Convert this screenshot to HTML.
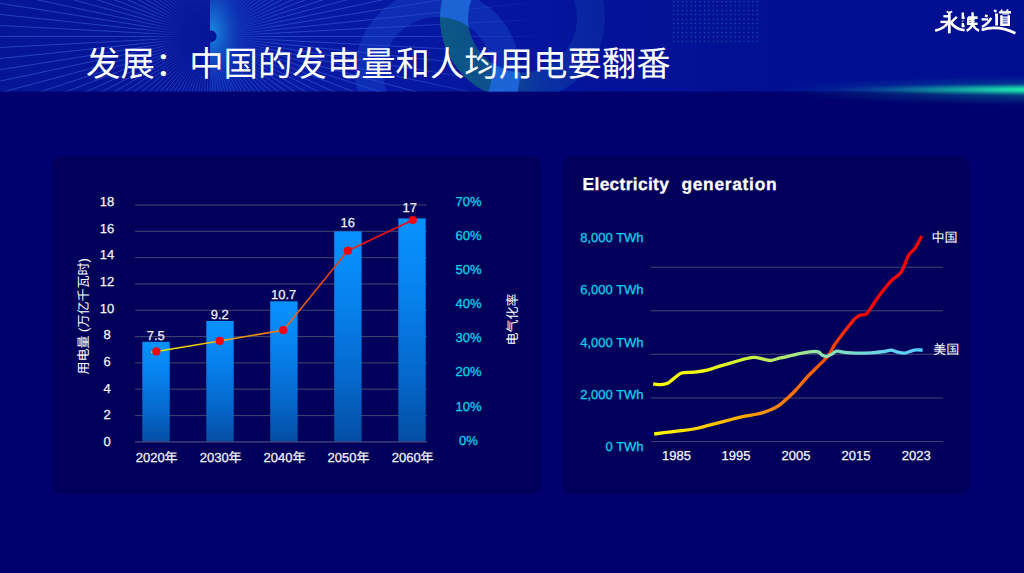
<!DOCTYPE html>
<html lang="zh-CN">
<head>
<meta charset="utf-8">
<title>发展：中国的发电量和人均用电要翻番</title>
<style>
html,body{margin:0;padding:0;background:#00006f;}
body{width:1024px;height:573px;overflow:hidden;position:relative;font-family:"Liberation Sans",sans-serif;}
.slide{position:absolute;left:0;top:0;width:1024px;height:573px;background:#00006f;overflow:hidden;}
.abs{position:absolute;left:0;top:0;display:block;}
text{text-rendering:geometricPrecision;}
header{position:absolute;left:0;top:0;width:1024px;height:110px;}
h1{margin:0;}
.panel{position:absolute;background:#00005a;border-radius:9px;}
#p1{left:52px;top:156px;width:488px;height:337px;}
#p2{left:563px;top:156px;width:407px;height:337px;}
</style>
</head>
<body>
<div class="slide">
<header>
<svg class="abs" width="1024" height="110" viewBox="0 0 1024 110" aria-hidden="true">
<defs>
<linearGradient id="hbg" x1="0" y1="0" x2="1024" y2="0" gradientUnits="userSpaceOnUse"><stop offset="0" stop-color="#051596"/><stop offset="0.2" stop-color="#06169c"/><stop offset="0.21" stop-color="#081ca6"/><stop offset="0.5" stop-color="#05159e"/><stop offset="0.7" stop-color="#021194"/><stop offset="1" stop-color="#000f90"/></linearGradient>
<radialGradient id="rayfade" cx="210" cy="36.5" r="340" gradientUnits="userSpaceOnUse"><stop offset="0" stop-color="#fff" stop-opacity="0"/><stop offset="0.05" stop-color="#fff" stop-opacity="0.15"/><stop offset="0.2" stop-color="#fff" stop-opacity="0.8"/><stop offset="0.6" stop-color="#fff" stop-opacity="0.8"/><stop offset="0.85" stop-color="#fff" stop-opacity="0.3"/><stop offset="1" stop-color="#fff" stop-opacity="0"/></radialGradient>
<mask id="raymask"><rect width="1024" height="92" fill="url(#rayfade)"/></mask>
<radialGradient id="glow" cx="0" cy="0" r="1" gradientTransform="translate(212 32) scale(46 78)" gradientUnits="userSpaceOnUse"><stop offset="0" stop-color="#1a90e4" stop-opacity="0.95"/><stop offset="0.3" stop-color="#1678d8" stop-opacity="0.6"/><stop offset="0.65" stop-color="#1050c8" stop-opacity="0.22"/><stop offset="1" stop-color="#1050c8" stop-opacity="0"/></radialGradient>
<radialGradient id="dark" cx="0" cy="0" r="1" gradientTransform="translate(210 36.5) scale(54 54)" gradientUnits="userSpaceOnUse"><stop offset="0" stop-color="#06169a" stop-opacity="1"/><stop offset="0.45" stop-color="#06169a" stop-opacity="0.8"/><stop offset="1" stop-color="#06169a" stop-opacity="0"/></radialGradient>
<linearGradient id="ring2" x1="440" y1="40" x2="605" y2="10" gradientUnits="userSpaceOnUse"><stop offset="0" stop-color="#0c5c82" stop-opacity="0.95"/><stop offset="0.3" stop-color="#0d548c" stop-opacity="0.9"/><stop offset="0.6" stop-color="#0e40a8" stop-opacity="0.6"/><stop offset="1" stop-color="#0c36a8" stop-opacity="0.42"/></linearGradient>
<radialGradient id="green" cx="0" cy="0" r="1" gradientTransform="translate(1080 89.6) scale(250 6.6)" gradientUnits="userSpaceOnUse"><stop offset="0" stop-color="#24f0b4" stop-opacity="1"/><stop offset="0.3" stop-color="#1ce0ac" stop-opacity="0.95"/><stop offset="0.6" stop-color="#14c0a4" stop-opacity="0.55"/><stop offset="0.85" stop-color="#10a0a0" stop-opacity="0.15"/><stop offset="1" stop-color="#10a0a0" stop-opacity="0"/></radialGradient>
<radialGradient id="green2" cx="0" cy="0" r="1" gradientTransform="translate(1080 91) scale(300 15)" gradientUnits="userSpaceOnUse"><stop offset="0" stop-color="#10b0a0" stop-opacity="0.55"/><stop offset="1" stop-color="#1090a0" stop-opacity="0"/></radialGradient>
<pattern id="dots" x="671.4" y="-0.7" width="4.4" height="4.42" patternUnits="userSpaceOnUse"><circle cx="2.2" cy="2.2" r="0.65" fill="#1666b0"/></pattern>
<clipPath id="hclip"><rect width="1024" height="91.5"/></clipPath>
</defs>
<g clip-path="url(#hclip)">
<rect width="1024" height="92" fill="url(#hbg)"/>
<g mask="url(#raymask)"><path d="M216.0 36.5L610.0 36.5M216.0 36.8L609.5 57.4M216.0 37.1L607.8 78.3M215.9 37.4L605.1 99.1M215.9 37.7L601.3 119.7M215.8 38.1L596.4 140.0M215.7 38.4L590.4 160.1M215.6 38.7L583.4 179.8M215.5 38.9L575.4 199.2M215.3 39.2L566.4 218.1M215.2 39.5L556.4 236.5M215.0 39.8L545.5 254.4M214.9 40.0L533.6 271.6M214.7 40.3L520.9 288.2M214.5 40.5L507.3 304.2M214.2 40.7L492.8 319.3M214.0 41.0L477.7 333.8M213.8 41.2L461.7 347.4M213.5 41.4L445.1 360.1M213.3 41.5L427.9 372.0M213.0 41.7L410.0 382.9M212.7 41.8L391.6 392.9M212.4 42.0L372.7 401.9M212.2 42.1L353.3 409.9M211.9 42.2L333.6 416.9M211.6 42.3L313.5 422.9M211.2 42.4L293.2 427.8M210.9 42.4L272.6 431.6M210.6 42.5L251.8 434.3M210.3 42.5L230.9 436.0M210.0 42.5L210.0 436.5M209.7 42.5L189.1 436.0M209.4 42.5L168.2 434.3M209.1 42.4L147.4 431.6M208.8 42.4L126.8 427.8M208.4 42.3L106.5 422.9M208.1 42.2L86.4 416.9M207.8 42.1L66.7 409.9M207.6 42.0L47.3 401.9M207.3 41.8L28.4 392.9M207.0 41.7L10.0 382.9M206.7 41.5L-7.9 372.0M206.5 41.4L-25.1 360.1M206.2 41.2L-41.7 347.4M206.0 41.0L-57.7 333.8M205.8 40.7L-72.8 319.3M205.5 40.5L-87.3 304.2M205.3 40.3L-100.9 288.2M205.1 40.0L-113.6 271.6M205.0 39.8L-125.5 254.4M204.8 39.5L-136.4 236.5M204.7 39.2L-146.4 218.1M204.5 38.9L-155.4 199.2M204.4 38.7L-163.4 179.8M204.3 38.4L-170.4 160.1M204.2 38.1L-176.4 140.0M204.1 37.7L-181.3 119.7M204.1 37.4L-185.1 99.1M204.0 37.1L-187.8 78.3M204.0 36.8L-189.5 57.4M204.0 36.5L-190.0 36.5M204.0 36.2L-189.5 15.6M204.0 35.9L-187.8 -5.3M204.1 35.6L-185.1 -26.1M204.1 35.3L-181.3 -46.7M204.2 34.9L-176.4 -67.0M204.3 34.6L-170.4 -87.1M204.4 34.3L-163.4 -106.8M204.5 34.1L-155.4 -126.2M204.7 33.8L-146.4 -145.1M204.8 33.5L-136.4 -163.5M205.0 33.2L-125.5 -181.4M205.1 33.0L-113.6 -198.6M205.3 32.7L-100.9 -215.2M205.5 32.5L-87.3 -231.2M205.8 32.3L-72.8 -246.3M206.0 32.0L-57.7 -260.8M206.2 31.8L-41.7 -274.4M206.5 31.6L-25.1 -287.1M206.7 31.5L-7.9 -299.0M207.0 31.3L10.0 -309.9M207.3 31.2L28.4 -319.9M207.6 31.0L47.3 -328.9M207.8 30.9L66.7 -336.9M208.1 30.8L86.4 -343.9M208.4 30.7L106.5 -349.9M208.8 30.6L126.8 -354.8M209.1 30.6L147.4 -358.6M209.4 30.5L168.2 -361.3M209.7 30.5L189.1 -363.0M210.0 30.5L210.0 -363.5M210.3 30.5L230.9 -363.0M210.6 30.5L251.8 -361.3M210.9 30.6L272.6 -358.6M211.2 30.6L293.2 -354.8M211.6 30.7L313.5 -349.9M211.9 30.8L333.6 -343.9M212.2 30.9L353.3 -336.9M212.4 31.0L372.7 -328.9M212.7 31.2L391.6 -319.9M213.0 31.3L410.0 -309.9M213.3 31.5L427.9 -299.0M213.5 31.6L445.1 -287.1M213.8 31.8L461.7 -274.4M214.0 32.0L477.7 -260.8M214.2 32.3L492.8 -246.3M214.5 32.5L507.3 -231.2M214.7 32.7L520.9 -215.2M214.9 33.0L533.6 -198.6M215.0 33.2L545.5 -181.4M215.2 33.5L556.4 -163.5M215.3 33.8L566.4 -145.1M215.5 34.1L575.4 -126.2M215.6 34.3L583.4 -106.8M215.7 34.6L590.4 -87.1M215.8 34.9L596.4 -67.0M215.9 35.3L601.3 -46.7M215.9 35.6L605.1 -26.1M216.0 35.9L607.8 -5.3M216.0 36.2L609.5 15.6" stroke="#4a78e6" stroke-width="0.9" fill="none" opacity="0.62"/></g>
<rect x="140" y="0" width="70" height="92" fill="url(#dark)"/><rect x="210" y="0" width="60" height="92" fill="url(#glow)"/>
<circle cx="210.6" cy="36.3" r="6" fill="#06169a"/>
<clipPath id="r2clip"><path clip-rule="evenodd" d="M440.0 18a82.5 82.5 0 1 0 165.0 0a82.5 82.5 0 1 0 -165.0 0ZM468.0 18a54.5 54.5 0 1 0 109.0 0a54.5 54.5 0 1 0 -109.0 0Z"/></clipPath>
<path fill-rule="evenodd" fill="#1a4cd0" fill-opacity="0.42" d="M355.0 71.5a82.5 82.5 0 1 0 165.0 0a82.5 82.5 0 1 0 -165.0 0ZM383.0 71.5a54.5 54.5 0 1 0 109.0 0a54.5 54.5 0 1 0 -109.0 0Z"/>
<path fill-rule="evenodd" fill="url(#ring2)" d="M440.0 18a82.5 82.5 0 1 0 165.0 0a82.5 82.5 0 1 0 -165.0 0ZM468.0 18a54.5 54.5 0 1 0 109.0 0a54.5 54.5 0 1 0 -109.0 0Z"/>
<g clip-path="url(#r2clip)"><path fill-rule="evenodd" fill="#1e66de" fill-opacity="0.9" d="M355.0 71.5a82.5 82.5 0 1 0 165.0 0a82.5 82.5 0 1 0 -165.0 0ZM383.0 71.5a54.5 54.5 0 1 0 109.0 0a54.5 54.5 0 1 0 -109.0 0Z"/></g>
<rect x="671.4" y="0" width="88" height="43.5" fill="url(#dots)"/>
</g>
<rect x="760" y="74" width="264" height="36" fill="url(#green2)"/>
<rect x="800" y="80" width="224" height="20" fill="url(#green)"/>
</svg>
<h1><svg class="abs" width="1024" height="92" viewBox="0 0 1024 92" role="img" aria-label="发展：中国的发电量和人均用电要翻番"><text x="86" y="76" font-family="'Liberation Sans','Noto Sans CJK SC',sans-serif" font-size="34.4" font-weight="normal" fill="#fff">发展：中国的发电量和人均用电要翻番</text></svg></h1>
<svg class="abs" width="1024" height="92" viewBox="0 0 1024 92" role="img" aria-label="永续之道"><title>永续之道</title><g fill="none" stroke="#fff" stroke-linecap="butt" stroke-linejoin="miter"><path d="M946.6 11.3Q949.4 13.5 952.2 11.3" stroke-width="1.68"/><path d="M943.4 16.3H949.3" stroke-width="2.40"/><path d="M949.3 12.8V33.3" stroke-width="2.76"/><path d="M940.4 21.9H948" stroke-width="2.40"/><path d="M948.2 22Q945 28.5 935.2 30.6" stroke-width="2.64"/><path d="M956.8 16.9L951 22.4" stroke-width="2.40"/><path d="M950.4 21.5Q954.5 29 964.6 30.3" stroke-width="2.64"/><path d="M962.8 12.4V17.8H964.6" stroke-width="2.40"/><path d="M962.4 20.6L963 21.2" stroke-width="1.92"/><path d="M962.8 23V26H964.6" stroke-width="2.40"/><path d="M972.6 12.3V17" stroke-width="2.40"/><path d="M967.9 17.6H977.6" stroke-width="2.64"/><path d="M968 19.6H974.8M968 21.5H974.8" stroke-width="1.32"/><path d="M968 17.6V23.8" stroke-width="1.92"/><path d="M966.9 23.8H977.6" stroke-width="2.40"/><path d="M972.6 17.6V25" stroke-width="2.40"/><path d="M972.4 25Q970.5 29 966.6 30.7" stroke-width="2.64"/><path d="M972.9 25Q975 29 979.1 30.7" stroke-width="2.64"/><path d="M985 15.3L987.6 16.4" stroke-width="2.40"/><path d="M981.6 19.4H988.2" stroke-width="2.40"/><path d="M991.3 17.9Q988 24 981.9 26.9" stroke-width="2.40"/><path d="M981.6 29.9C990 27.2 1002 26.8 1015.4 33.3" stroke-width="2.76"/><path d="M994.1 10.1L996.4 11.8" stroke-width="2.40"/><path d="M995 14.8H996.6V25.6" stroke-width="2.76"/><path d="M1001.2 9.6L1001.9 11.2M1007.8 9.4L1007 11.2" stroke-width="1.92"/><path d="M999.1 12.3H1011" stroke-width="2.40"/><path d="M1002.3 14H1009" stroke-width="1.08"/><path d="M1001.4 15.2V24.9H1008.8V15.2" stroke-width="2.40"/><path d="M1001.4 17.1H1008.8M1001.4 19.1H1008.8M1001.4 21.1H1008.8M1001.4 23H1008.8" stroke-width="1.20"/></g></svg>
</header>
<svg class="abs" width="1024" height="573" viewBox="0 0 1024 573" aria-hidden="true"><rect x="52.3" y="156.2" width="488.4" height="337.7" rx="8.5" fill="#00005a"/><rect x="562.6" y="156.2" width="406.6" height="337.7" rx="8.5" fill="#00005a"/></svg>
<svg class="abs" width="1024" height="573" viewBox="0 0 1024 573" role="img" aria-label="用电量与电气化率">
<defs>
<linearGradient id="bar" x1="0" y1="0" x2="0" y2="1"><stop offset="0" stop-color="#0892ff"/><stop offset="0.3" stop-color="#0784f0"/><stop offset="0.7" stop-color="#0568cc"/><stop offset="1" stop-color="#044ea4"/></linearGradient>
<linearGradient id="lineg" x1="151" y1="0" x2="413" y2="0" gradientUnits="userSpaceOnUse"><stop offset="0" stop-color="#d8e800"/><stop offset="0.08" stop-color="#f0e000"/><stop offset="0.3" stop-color="#f0a808"/><stop offset="0.5" stop-color="#f07010"/><stop offset="0.7" stop-color="#f03c10"/><stop offset="0.85" stop-color="#f01410"/><stop offset="1" stop-color="#f00010"/></linearGradient>
</defs>
<rect x="135" y="414.98" width="292" height="1.1" fill="#404070"/>
<rect x="135" y="388.66" width="292" height="1.1" fill="#404070"/>
<rect x="135" y="362.34" width="292" height="1.1" fill="#404070"/>
<rect x="135" y="336.02" width="292" height="1.1" fill="#404070"/>
<rect x="135" y="309.70" width="292" height="1.1" fill="#404070"/>
<rect x="135" y="283.38" width="292" height="1.1" fill="#404070"/>
<rect x="135" y="257.06" width="292" height="1.1" fill="#404070"/>
<rect x="135" y="230.74" width="292" height="1.1" fill="#404070"/>
<rect x="135" y="204.42" width="292" height="1.1" fill="#404070"/>
<rect x="142.3" y="341.8" width="27.4" height="100.1" fill="url(#bar)"/>
<rect x="206.3" y="321.0" width="27.4" height="120.9" fill="url(#bar)"/>
<rect x="270.2" y="301.3" width="27.4" height="140.6" fill="url(#bar)"/>
<rect x="334.2" y="231.4" width="27.4" height="210.5" fill="url(#bar)"/>
<rect x="398.3" y="218.4" width="27.4" height="223.5" fill="url(#bar)"/>
<rect x="135" y="441.20" width="292" height="1.4" fill="#444478"/>
<path d="M151.1 352.3L156.4 351.4L219.7 340.9L283.3 330.2L347.9 250.7L412.8 220" fill="none" stroke="url(#lineg)" stroke-width="1.5"/>
<circle cx="156.4" cy="351.4" r="4.1" fill="#f5000f"/>
<circle cx="219.7" cy="340.9" r="4.1" fill="#f5000f"/>
<circle cx="283.3" cy="330.2" r="4.1" fill="#f5000f"/>
<circle cx="347.9" cy="250.7" r="4.1" fill="#f5000f"/>
<circle cx="412.8" cy="220" r="4.1" fill="#f5000f"/>
<g font-family="'Liberation Sans',sans-serif" font-size="13" fill="#f4f4fa" stroke="#f4f4fa" stroke-width="0.25" text-anchor="middle">
<text x="107" y="446.1">0</text>
<text x="107" y="419.4">2</text>
<text x="107" y="392.8">4</text>
<text x="107" y="366.1">6</text>
<text x="107" y="339.4">8</text>
<text x="107" y="312.7">10</text>
<text x="107" y="286.1">12</text>
<text x="107" y="259.4">14</text>
<text x="107" y="232.7">16</text>
<text x="107" y="206.1">18</text>
<text x="155.7" y="339.9">7.5</text>
<text x="219.8" y="318.5">9.2</text>
<text x="283.7" y="298.8">10.7</text>
<text x="347.7" y="227.1">16</text>
<text x="409.7" y="212.3">17</text>
</g>
<text x="135.7" y="461.7" font-family="'Liberation Sans','Noto Sans CJK SC',sans-serif" font-size="13" fill="#f4f4fa" stroke="#f4f4fa" stroke-width="0.25">2020年</text>
<text x="199.7" y="461.7" font-family="'Liberation Sans','Noto Sans CJK SC',sans-serif" font-size="13" fill="#f4f4fa" stroke="#f4f4fa" stroke-width="0.25">2030年</text>
<text x="263.6" y="461.7" font-family="'Liberation Sans','Noto Sans CJK SC',sans-serif" font-size="13" fill="#f4f4fa" stroke="#f4f4fa" stroke-width="0.25">2040年</text>
<text x="327.6" y="461.7" font-family="'Liberation Sans','Noto Sans CJK SC',sans-serif" font-size="13" fill="#f4f4fa" stroke="#f4f4fa" stroke-width="0.25">2050年</text>
<text x="391.7" y="461.7" font-family="'Liberation Sans','Noto Sans CJK SC',sans-serif" font-size="13" fill="#f4f4fa" stroke="#f4f4fa" stroke-width="0.25">2060年</text>
<g font-family="'Liberation Sans',sans-serif" font-size="13" fill="#0ad4ee" stroke="#0ad4ee" stroke-width="0.25" text-anchor="middle">
<text x="468.5" y="444.6">0%</text>
<text x="468.5" y="410.5">10%</text>
<text x="468.5" y="376.4">20%</text>
<text x="468.5" y="342.4">30%</text>
<text x="468.5" y="308.3">40%</text>
<text x="468.5" y="274.2">50%</text>
<text x="468.5" y="240.1">60%</text>
<text x="468.5" y="206.0">70%</text>
</g>
<g transform="translate(87.7 374.5) rotate(-90)"><text x="0" y="0" font-family="'Liberation Sans','Noto Sans CJK SC',sans-serif" font-size="13" fill="#fff">用电量 (万亿千瓦时)</text></g>
<g transform="translate(516.8 345.5) rotate(-90)"><text x="0" y="0" font-family="'Liberation Sans','Noto Sans CJK SC',sans-serif" font-size="13" fill="#fff">电气化率</text></g>
</svg>
<svg class="abs" width="1024" height="573" viewBox="0 0 1024 573" role="img" aria-label="Electricity generation">
<defs>
<linearGradient id="usg" x1="653" y1="0" x2="923" y2="0" gradientUnits="userSpaceOnUse"><stop offset="0" stop-color="#ffff00"/><stop offset="0.2" stop-color="#f0f810"/><stop offset="0.36" stop-color="#c8f040"/><stop offset="0.52" stop-color="#a8e680"/><stop offset="0.68" stop-color="#80e0c0"/><stop offset="0.85" stop-color="#68d4e8"/><stop offset="1" stop-color="#50c8ff"/></linearGradient>
<linearGradient id="cng" x1="653" y1="0" x2="923" y2="0" gradientUnits="userSpaceOnUse"><stop offset="0" stop-color="#ffff00"/><stop offset="0.15" stop-color="#ffd800"/><stop offset="0.33" stop-color="#ffa800"/><stop offset="0.5" stop-color="#ff7800"/><stop offset="0.62" stop-color="#ff5c00"/><stop offset="0.7" stop-color="#ff3000"/><stop offset="0.77" stop-color="#ff0800"/><stop offset="0.82" stop-color="#ff0000"/><stop offset="1" stop-color="#ff0000"/></linearGradient>
</defs>
<rect x="650.8" y="266.70" width="292.2" height="1.1" fill="#404070"/>
<rect x="650.8" y="310.20" width="292.2" height="1.1" fill="#404070"/>
<rect x="650.8" y="353.70" width="292.2" height="1.1" fill="#404070"/>
<rect x="650.8" y="397.40" width="292.2" height="1.1" fill="#404070"/>
<rect x="650.8" y="441.00" width="292.2" height="1.1" fill="#404070"/>
<path d="M654.2 434.0C656.4 433.7 664.7 432.6 668.8 432.1C672.9 431.6 677.5 431.2 681.6 430.7C685.7 430.2 692.4 429.2 696.3 428.5C700.2 427.8 704.0 426.6 707.3 425.7C710.6 424.8 714.7 423.7 718.3 422.8C721.9 421.9 727.3 420.5 731.1 419.5C734.9 418.5 740.3 417.1 743.9 416.4C747.5 415.6 752.2 415.0 754.9 414.5C757.6 414.0 759.7 413.6 762.2 412.9C764.7 412.2 768.9 410.7 771.4 409.6C773.9 408.5 776.5 407.1 778.7 405.6C780.9 404.1 783.6 401.7 786.0 399.5C788.4 397.3 791.7 394.5 795 391.0C798.3 387.5 804.7 379.7 808.2 376.0C811.7 372.3 815.2 369.1 818.2 366.1C821.2 363.1 825.6 359.3 828.1 356.1C830.6 352.9 832.3 348.2 834.8 344.5C837.3 340.8 841.7 335.0 844.7 331.2C847.7 327.4 852.5 321.3 854.7 318.9C857.0 316.5 858.0 316.1 859.7 315.3C861.4 314.6 864.3 315.5 866.3 313.9C868.3 312.3 870.8 307.8 873.0 304.7C875.2 301.6 878.5 296.6 881.2 293.0C883.9 289.4 888.2 283.9 891.2 280.8C894.2 277.7 898.6 275.9 901.2 272.1C903.8 268.3 906.4 259.1 908.5 255.5C910.6 251.9 913.1 251.1 915.1 248.2C917.1 245.3 920.7 237.8 921.7 236.0" fill="none" stroke="url(#cng)" stroke-width="3.3" stroke-linejoin="round" stroke-linecap="butt"/>
<path d="M653.2 384.0C654.3 384.1 658.5 384.8 660.6 384.7C662.7 384.6 664.9 384.6 667.0 383.6C669.1 382.6 672.1 379.7 674.3 378.1C676.5 376.5 678.6 373.9 681.6 373.0C684.6 372.1 690.6 372.6 694.5 372.2C698.4 371.8 703.7 371.0 707.3 370.2C710.9 369.4 714.7 367.7 718.3 366.6C721.9 365.5 727.3 364.0 731.1 362.9C734.9 361.8 741.0 360.0 743.9 359.2C746.8 358.4 748.6 358.1 750.3 357.8C751.9 357.5 753.1 357.2 754.9 357.4C756.7 357.6 759.9 358.4 762.2 358.9C764.5 359.4 767.8 360.7 770.5 360.5C773.2 360.3 778.3 358.3 780.5 357.8C782.7 357.3 782.3 357.7 785 357.1C787.7 356.5 794.6 354.6 798.3 353.8C802.0 353.0 806.9 352.1 809.9 351.8C812.9 351.5 816.4 351.3 818.2 351.8C820.0 352.3 821.0 354.4 822.2 355.1C823.4 355.8 825.1 356.5 826.5 356.4C827.9 356.3 830.0 355.2 831.5 354.4C833.0 353.6 834.7 351.4 836.4 351.1C838.1 350.8 839.9 351.8 843.1 352.1C846.3 352.4 853.8 353.0 858.0 353.1C862.2 353.2 867.3 353.0 871.3 352.8C875.3 352.6 881.6 351.9 884.6 351.5C887.6 351.1 889.2 350.0 891.2 350.1C893.2 350.2 895.8 351.7 897.8 352.1C899.8 352.6 902.5 353.2 904.5 353.1C906.5 353.0 909.4 351.6 911.1 351.1C912.8 350.6 914.4 349.9 916.1 349.8C917.8 349.7 921.7 350.1 922.7 350.1" fill="none" stroke="url(#usg)" stroke-width="3.3" stroke-linejoin="round" stroke-linecap="butt"/>
<text y="190.3" font-family="'Liberation Sans',sans-serif" font-weight="bold" font-size="17.4" fill="#fff" stroke="#fff" stroke-width="0.3"><tspan x="582.6" textLength="86.2" lengthAdjust="spacing">Electricity</tspan> <tspan x="681.4" textLength="95.2" lengthAdjust="spacing">generation</tspan></text>
<g font-family="'Liberation Sans',sans-serif" font-size="13" fill="#0ad4ee" stroke="#0ad4ee" stroke-width="0.25" text-anchor="end">
<text x="643.6" y="451.1">0 TWh</text>
<text x="643.6" y="398.9">2,000 TWh</text>
<text x="643.6" y="346.6">4,000 TWh</text>
<text x="643.6" y="294.3">6,000 TWh</text>
<text x="643.6" y="241.8">8,000 TWh</text>
</g>
<g font-family="'Liberation Sans',sans-serif" font-size="13" fill="#f4f4fa" stroke="#f4f4fa" stroke-width="0.25" text-anchor="middle">
<text x="676.4" y="459.6">1985</text>
<text x="736" y="459.6">1995</text>
<text x="796" y="459.6">2005</text>
<text x="856" y="459.6">2015</text>
<text x="916.2" y="459.6">2023</text>
</g>
<g><text x="931.4" y="241.5" font-family="'Liberation Sans','Noto Sans CJK SC',sans-serif" font-size="13" fill="#fff">中国</text></g>
<g><text x="933.2" y="353.9" font-family="'Liberation Sans','Noto Sans CJK SC',sans-serif" font-size="13" fill="#fff">美国</text></g>
</svg>
</div>
</body>
</html>
